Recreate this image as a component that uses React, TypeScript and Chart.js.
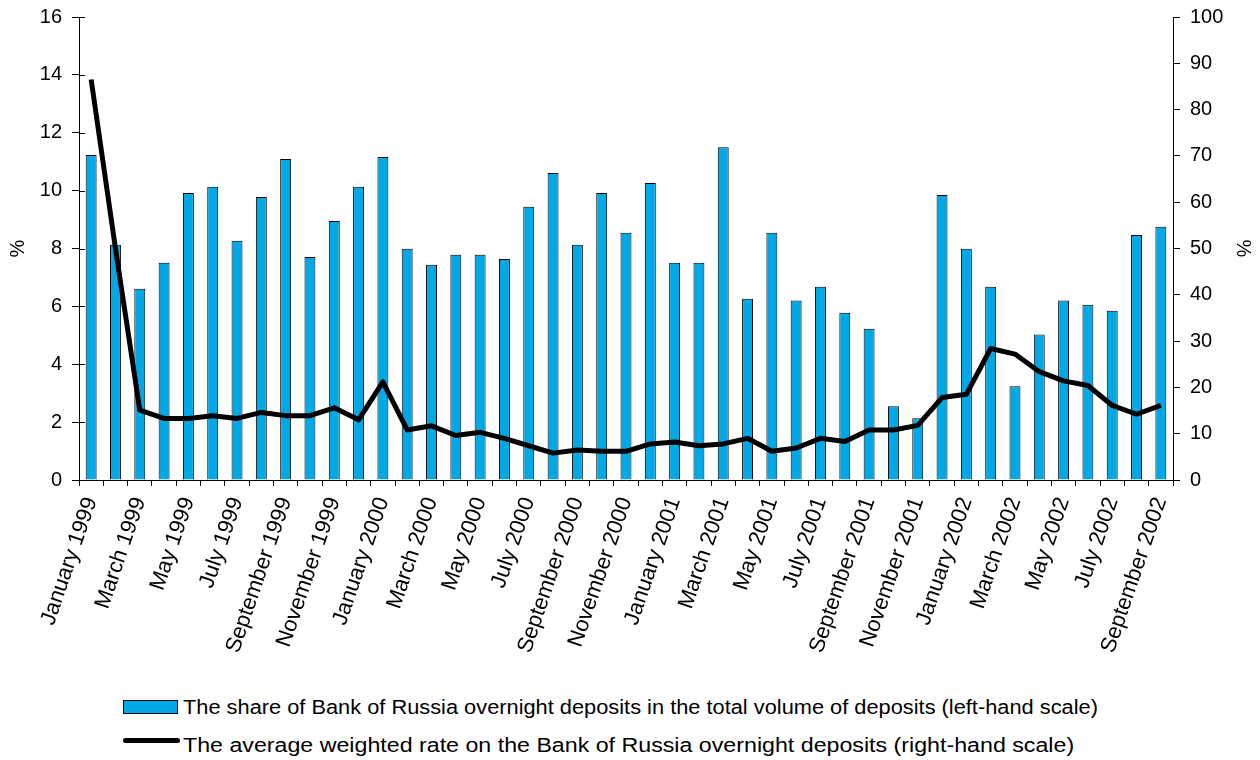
import React, { useEffect, useRef } from "react";
import { Chart, registerables } from "chart.js";

Chart.register(...registerables);

const months = ["January", "February", "March", "April", "May", "June", "July", "August", "September", "October", "November", "December"];
const years = [1999, 2000, 2001, 2002];

const categories: string[] = [];
for (const y of years) {
  for (const m of months) {
    if (y === 2002 && months.indexOf(m) > 8) break;
    categories.push(`${m} ${y}`);
  }
}

const shareValues = [
  11.23, 8.13, 6.61, 7.51, 9.92, 10.13, 8.27, 9.78, 11.09, 7.71, 8.95, 10.13,
  11.16, 7.99, 7.44, 7.78, 7.78, 7.64, 9.44, 10.61, 8.13, 9.92, 8.54, 10.26,
  7.51, 7.51, 11.5, 6.26, 8.54, 6.2, 6.68, 5.78, 5.23, 2.55, 2.13, 9.85,
  7.99, 6.68, 3.24, 5.03, 6.2, 6.06, 5.85, 8.47, 8.75,
];

const rateValues = [
  86.5, 50, 15.1, 13.3, 13.3, 13.9, 13.3, 14.6, 13.9, 13.9, 15.6, 13.0,
  21.2, 10.8, 11.7, 9.6, 10.3, 9.0, 7.4, 5.8, 6.5, 6.2, 6.2, 7.8,
  8.2, 7.4, 7.8, 9.0, 6.2, 6.9, 9.0, 8.3, 10.8, 10.8, 11.8, 17.8,
  18.5, 28.4, 27.2, 23.4, 21.4, 20.4, 16.1, 14.2, 16.1,
];

const shareLabel = "The share of Bank of Russia overnight deposits in the total volume of deposits (left-hand scale)";
const rateLabel = "The average weighted rate on the Bank of Russia overnight deposits (right-hand scale)";

const BLUE = "#00A9E6";
const FONT = "'Liberation Sans', Arial, sans-serif";

const innerTicks = {
  id: "innerTicks",
  afterDraw(chart: any) {
    const s = chart.scales.y;
    const ctx = chart.ctx;
    ctx.save();
    ctx.strokeStyle = "#000";
    ctx.lineWidth = 1;
    s.ticks.forEach((_t: any, i: number) => {
      const y = Math.round(s.getPixelForTick(i)) + 0.5;
      ctx.beginPath();
      ctx.moveTo(s.right, y);
      ctx.lineTo(s.right + 6, y);
      ctx.stroke();
    });
    ctx.restore();
  },
};

export default function App() {
  const ref = useRef<HTMLCanvasElement | null>(null);

  useEffect(() => {
    if (!ref.current) return;
    const chart = new Chart(ref.current, {
      type: "bar",
      data: {
        labels: categories,
        datasets: [
          {
            type: "line",
            label: rateLabel,
            data: rateValues,
            yAxisID: "y2",
            borderColor: "#000",
            borderWidth: 5,
            pointRadius: 0,
            tension: 0,
            order: 0,
            borderJoinStyle: "round",
          } as any,
          {
            type: "bar",
            label: shareLabel,
            data: shareValues,
            yAxisID: "y",
            backgroundColor: BLUE,
            borderColor: "#000",
            borderWidth: 1,
            categoryPercentage: 1,
            barPercentage: 0.45,
            order: 1,
          },
        ],
      },
      options: {
        responsive: false,
        animation: false,
        layout: { padding: { top: 11, left: 0, right: 0, bottom: 0 } },
        plugins: { legend: { display: false }, tooltip: { enabled: false } },
        scales: {
          x: {
            offset: true,
            grid: { offset: true, drawOnChartArea: false, drawTicks: true, tickLength: 6, color: "#000" },
            border: { color: "#000", width: 1 },
            ticks: {
              autoSkip: false,
              minRotation: 71,
              maxRotation: 71,
              padding: 8,
              color: "#000",
              font: { family: FONT, size: 22 },
              callback: (_v: any, i: number) => (i % 2 === 0 ? categories[i] : ""),
            },
            afterFit: (s: any) => {
              s.height = 205;
            },
          },
          y: {
            position: "left",
            min: 0,
            max: 16,
            ticks: { stepSize: 2, color: "#000", padding: 10, font: { family: FONT, size: 20 } },
            grid: { drawOnChartArea: false, tickLength: 7, color: "#000" },
            border: { color: "#000", width: 1 },
            title: { display: true, text: "%", color: "#000", font: { family: FONT, size: 20 }, padding: { top: 6, bottom: 0 } },
            afterFit: (s: any) => {
              s.width = 79;
            },
          },
          y2: {
            position: "right",
            min: 0,
            max: 100,
            ticks: { stepSize: 10, color: "#000", padding: 10, font: { family: FONT, size: 20 } },
            grid: { drawOnChartArea: false, tickLength: 7, color: "#000" },
            border: { color: "#000", width: 1 },
            title: { display: true, text: "%", color: "#000", font: { family: FONT, size: 20 }, padding: { top: 5, bottom: 0 } },
            afterFit: (s: any) => {
              s.width = 87;
            },
          },
        },
      },
      plugins: [innerTicks],
    });
    return () => chart.destroy();
  }, []);

  const textStyle: React.CSSProperties = {
    position: "absolute",
    left: 183,
    fontFamily: FONT,
    fontSize: 20,
    color: "#000",
    whiteSpace: "nowrap",
    lineHeight: "20px",
    transformOrigin: "0 50%",
  };

  return (
    <div style={{ position: "fixed", left: 0, top: 0, width: 1260, height: 760, background: "#fff", overflow: "hidden" }}>
      <canvas ref={ref} width={1260} height={690} style={{ position: "absolute", left: 0, top: -5, width: 1260, height: 690 }} />
      <div style={{ position: "absolute", left: 123, top: 700, width: 53, height: 12, background: BLUE, border: "1px solid #000" }} />
      <div style={{ ...textStyle, top: 697, transform: "scaleX(1.09)" }}>{shareLabel}</div>
      <div style={{ position: "absolute", left: 123, top: 738, width: 57, height: 5, background: "#000", borderRadius: 3 }} />
      <div style={{ ...textStyle, top: 735, transform: "scaleX(1.16)" }}>{rateLabel}</div>
    </div>
  );
}
